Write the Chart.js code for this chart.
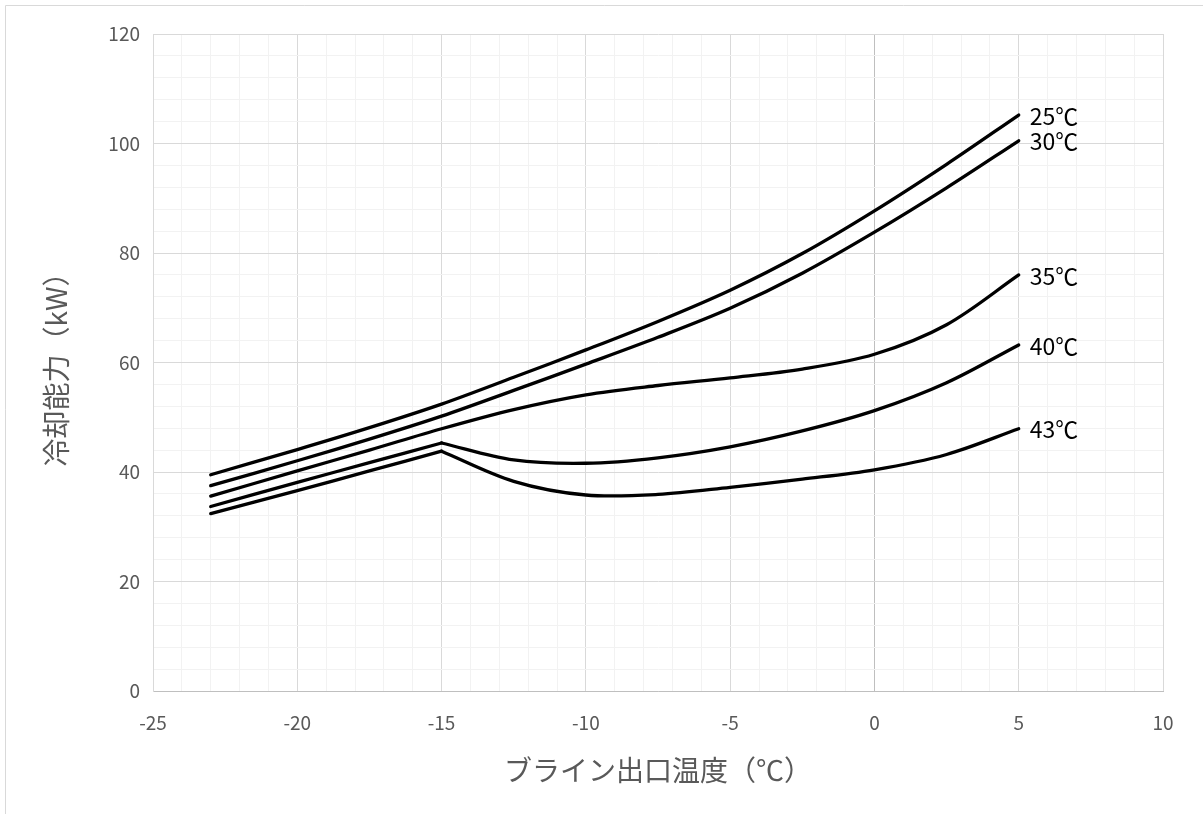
<!DOCTYPE html>
<html>
<head>
<meta charset="utf-8">
<script src="https://cdn.jsdelivr.net/npm/chart.js@4/dist/chart.umd.min.js"></script>
<style>
  html, body { margin: 0; padding: 0; background: #fff; }
  #wrap { width: 1203px; height: 814px; }
</style>
</head>
<body>
<div id="wrap"><canvas id="capacityChart" width="1203" height="814"></canvas></div>
<script>
// brine outlet temperature (°C)
const brineTemp = [-23, -20, -17.5, -15, -12.5, -10, -7.5, -5, -2.5, 0, 2.5, 5];

// cooling capacity (kW) per ambient temperature
const cap25 = [39.5, 44.1, 48.1, 52.4, 57.3, 62.3, 67.5, 73.2, 79.9, 87.7, 96.2, 105.2];
const cap30 = [37.5, 42.05, 46.0, 50.2, 54.9, 59.7, 64.6, 69.9, 76.3, 83.8, 91.9, 100.5];
const cap35 = [35.6, 40.2, 44.0, 47.9, 51.4, 54.1, 55.8, 57.2, 58.8, 61.5, 66.9, 76.0];
const cap40 = [33.7, 38.1, 41.7, 45.3, 42.2, 41.6, 42.6, 44.6, 47.5, 51.2, 56.3, 63.2];
const cap43 = [32.4, 36.6, 40.2, 43.8, 38.3, 35.8, 35.9, 37.2, 38.7, 40.4, 43.2, 47.9];

const seriesLabels = ['25℃', '30℃', '35℃', '40℃', '43℃'];
const seriesValues = [cap25, cap30, cap35, cap40, cap43];
// series whose capacity peaks at -15 (drawn with a sharp corner there)
const kinked = [false, false, false, true, true];

const xTicks = [-25, -20, -15, -10, -5, 0, 5, 10];
const yTicks = [0, 20, 40, 60, 80, 100, 120];

const kinkIndex = brineTemp.indexOf(-15);

const datasets = [];
seriesValues.forEach((vals, i) => {
    const pts = brineTemp.map((x, j) => ({ x: x, y: vals[j] }));
    const common = {
        borderColor: '#000',
        borderWidth: 3.3,
        pointRadius: 0,
        tension: 0.33,
        fill: false,
        borderCapStyle: 'round',
    };
    if (kinked[i]) {
        datasets.push(Object.assign({ label: seriesLabels[i] + ' a', data: pts.slice(0, kinkIndex + 1) }, common));
        datasets.push(Object.assign({ label: seriesLabels[i], data: pts.slice(kinkIndex), endLabel: true }, common));
    } else {
        datasets.push(Object.assign({ label: seriesLabels[i], data: pts, endLabel: true }, common));
    }
});

const endLabels = {
    id: 'endLabels',
    afterDatasetsDraw(chart) {
        const ctx = chart.ctx;
        ctx.save();
        ctx.font = '23px "Noto Sans CJK JP", sans-serif';
        ctx.fillStyle = '#000';
        ctx.textBaseline = 'middle';
        chart.data.datasets.forEach((ds, i) => {
            if (!ds.endLabel) return;
            const meta = chart.getDatasetMeta(i);
            const last = meta.data[meta.data.length - 1];
            ctx.fillText(ds.label, last.x + 11, last.y + 1);
        });
        ctx.restore();
    }
};

const frame = {
    id: 'frame',
    beforeDraw(chart) {
        const ctx = chart.ctx;
        ctx.save();
        ctx.strokeStyle = '#d9d9d9';
        ctx.lineWidth = 1;
        ctx.beginPath();
        ctx.moveTo(5.5, 814);
        ctx.lineTo(5.5, 5.5);
        ctx.lineTo(1203, 5.5);
        ctx.stroke();
        ctx.restore();
    }
};

function gridColor(majorStep) {
    return (c) => {
        const v = c.tick ? c.tick.value : 0;
        if (v === 0 && majorStep === 5) return '#bfbfbf';
        return v % majorStep === 0 ? '#d9d9d9' : '#f2f2f2';
    };
}

new Chart(document.getElementById('capacityChart'), {
    type: 'line',
    data: { datasets: datasets },
    plugins: [frame, endLabels],
    options: {
        responsive: false,
        animation: false,
        layout: { padding: { top: 34, right: 40, left: 0, bottom: 0 } },
        plugins: {
            legend: { display: false },
            tooltip: { enabled: false },
        },
        scales: {
            x: {
                type: 'linear',
                min: -25,
                max: 10,
                afterFit: (s) => { s.height = 814 - 691; },
                ticks: {
                    stepSize: 1,
                    autoSkip: false,
                    maxRotation: 0,
                    padding: 20,
                    color: '#595959',
                    font: { size: 19, family: '"Noto Sans CJK JP", sans-serif' },
                    callback: (v) => xTicks.includes(v) ? String(v) : '',
                },
                grid: { color: gridColor(5), drawTicks: false, lineWidth: 1 },
                border: { color: '#bfbfbf', width: 1 },
                title: {
                    display: true,
                    text: 'ブライン出口温度（℃）',
                    color: '#595959',
                    font: { size: 28, family: '"Noto Sans CJK JP", sans-serif' },
                    padding: { top: 0, bottom: 27 },
                },
            },
            y: {
                min: 0,
                max: 120,
                afterFit: (s) => { s.width = 153; },
                ticks: {
                    stepSize: 4,
                    autoSkip: false,
                    padding: 13,
                    color: '#595959',
                    font: { size: 19, family: '"Noto Sans CJK JP", sans-serif' },
                    callback: (v) => yTicks.includes(v) ? String(v) : '',
                },
                grid: { color: gridColor(20), drawTicks: false, lineWidth: 1 },
                border: { color: '#d9d9d9', width: 1 },
                title: {
                    display: true,
                    text: '冷却能力（kW）',
                    color: '#595959',
                    font: { size: 28, family: '"Noto Sans CJK JP", sans-serif' },
                    padding: { top: 40, bottom: 0 },
                },
            },
        },
    },
});
</script>
</body>
</html>
